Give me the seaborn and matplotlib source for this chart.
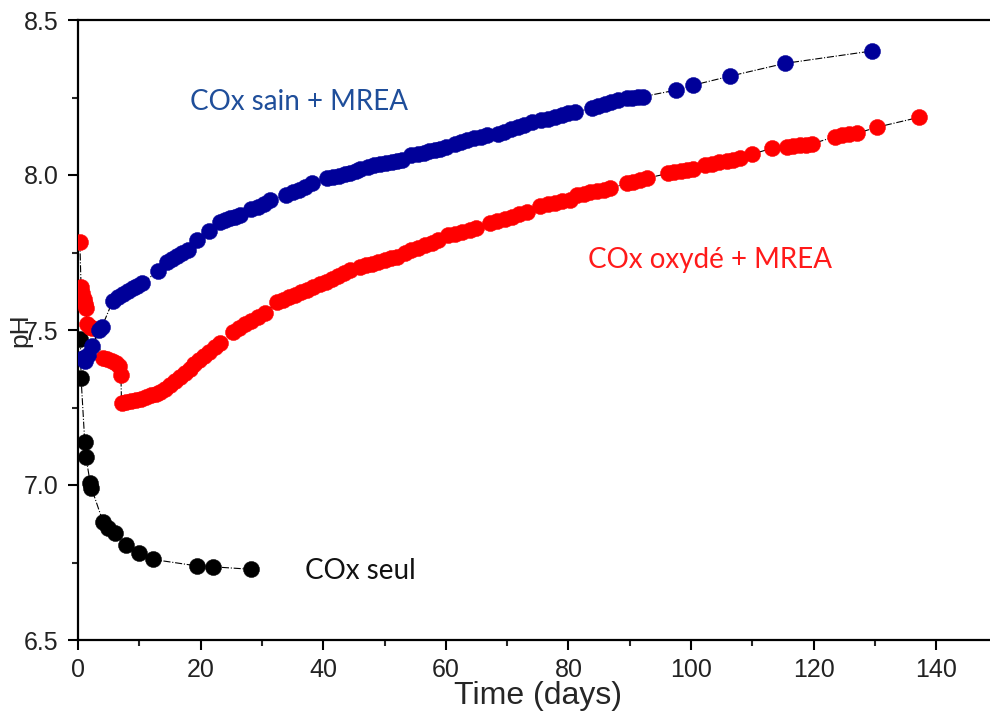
import matplotlib
matplotlib.use("Agg")
import matplotlib.pyplot as plt
import seaborn as sns
import pandas as pd
from matplotlib.ticker import MultipleLocator

# ---- data ----
blue_days = [0.8, 1.2, 1.7, 2.3, 3.5, 3.9,
             5.7, 6.5, 7.3, 8.1, 8.9, 9.7, 10.5,
             13.1,
             14.5, 15.3, 16.1, 17.0, 18.0,
             19.4, 21.3,
             23.2, 24.0, 24.8, 25.6, 26.4,
             28.3, 29.3, 30.3, 31.3,
             34.0, 35.0, 36.0, 37.0, 38.1,
             40.6, 41.6, 42.6, 43.5, 44.4, 45.3, 46.0,
             47.3, 48.3, 49.3, 50.3, 51.3, 52.1, 52.9,
             54.4, 55.4, 56.4, 57.3, 58.2, 59.1, 60.1,
             61.5, 62.5, 63.5, 64.6, 65.7, 66.7,
             68.5, 69.5, 70.6, 71.7, 72.8, 74.0,
             75.6, 76.7, 77.8, 78.9, 80.0, 81.0,
             83.8, 84.8, 85.9, 87.0, 88.1,
             89.5, 90.4, 91.3, 92.2,
             97.6, 100.4, 106.4, 115.3, 129.5]
blue_ph = [7.41, 7.40, 7.42, 7.45, 7.50, 7.51,
           7.595, 7.605, 7.615, 7.625, 7.635, 7.643, 7.652,
           7.69,
           7.72, 7.73, 7.738, 7.748, 7.758,
           7.79, 7.82,
           7.85, 7.855, 7.86, 7.866, 7.872,
           7.89, 7.898, 7.906, 7.918,
           7.935, 7.945, 7.953, 7.962, 7.974,
           7.99, 7.993, 7.997, 8.002, 8.007, 8.014, 8.02,
           8.027, 8.031, 8.034, 8.038, 8.041, 8.045, 8.048,
           8.065, 8.068, 8.072, 8.076, 8.080, 8.085, 8.089,
           8.10, 8.105, 8.112, 8.118, 8.124, 8.13,
           8.133, 8.14, 8.148, 8.155, 8.162, 8.17,
           8.177, 8.182, 8.188, 8.193, 8.199, 8.204,
           8.215, 8.221, 8.228, 8.235, 8.242,
           8.247, 8.249, 8.251, 8.253,
           8.274, 8.29, 8.319, 8.36, 8.40]

red_days = [0.3,
            0.5, 0.7, 0.9, 1.1, 1.3,
            1.5, 1.9, 2.3,
            4.1, 4.8, 5.5, 6.2, 6.7, 7.0,
            7.1, 7.9, 8.7, 9.5, 10.3, 11.1, 11.9, 12.7, 13.4,
            14.2, 15.0, 15.8, 16.6, 17.4, 18.2, 19.0, 19.8, 20.6, 21.4, 22.3, 23.2,
            25.3, 26.3, 27.3, 28.3, 29.4, 30.5,
            32.4, 33.4, 34.4, 35.4, 36.4, 37.4, 38.4, 39.4, 40.4, 41.4, 42.4, 43.4, 44.4,
            46.0, 47.0, 48.0, 49.0, 50.0, 51.0, 52.0,
            53.3, 54.4, 55.5, 56.6, 57.7, 58.8,
            60.4, 61.5, 62.7, 63.9, 65.0,
            67.2, 68.4, 69.6, 70.8, 72.0, 73.2,
            75.4, 76.6, 77.8, 79.0, 80.3,
            81.4, 82.5, 83.6, 84.7, 85.8, 86.8,
            89.5, 90.5, 91.6, 92.8,
            96.3, 97.3, 98.4, 99.4, 100.4,
            102.3, 103.5, 104.6, 105.8, 106.9, 108.0,
            109.9, 113.2,
            115.6, 116.6, 117.7, 118.7, 119.7,
            123.5, 124.7, 125.8, 127.0,
            130.3, 137.2]
red_ph = [7.785,
          7.64, 7.62, 7.60, 7.585, 7.57,
          7.52, 7.51, 7.505,
          7.41, 7.405, 7.40, 7.395, 7.385, 7.355,
          7.265, 7.268, 7.27, 7.274, 7.278, 7.283, 7.289, 7.295, 7.30,
          7.31, 7.322, 7.335, 7.348, 7.361, 7.375, 7.389, 7.403, 7.416, 7.43, 7.444, 7.457,
          7.495, 7.507, 7.519, 7.53, 7.542, 7.554,
          7.59, 7.598, 7.606, 7.614, 7.622, 7.63, 7.638, 7.647, 7.656, 7.665, 7.674, 7.683, 7.692,
          7.704, 7.709, 7.714, 7.72, 7.725, 7.731, 7.736,
          7.75, 7.758, 7.766, 7.774, 7.782, 7.79,
          7.806, 7.811, 7.817, 7.822, 7.828,
          7.844, 7.851, 7.858, 7.866, 7.873, 7.88,
          7.90, 7.905, 7.91, 7.915, 7.92,
          7.935, 7.94, 7.944, 7.948, 7.953, 7.957,
          7.973, 7.978, 7.984, 7.99,
          8.005, 8.009, 8.013, 8.017, 8.02,
          8.032, 8.036, 8.041, 8.045, 8.05, 8.054,
          8.067, 8.086,
          8.091, 8.094, 8.096, 8.098, 8.10,
          8.124, 8.128, 8.131, 8.134,
          8.154, 8.186]

black_days = [0.4, 0.5, 1.1, 1.3, 2.0, 2.2, 4.1, 4.95, 6.0, 7.9, 10.0, 12.2, 19.4, 22.1, 28.3]
black_ph = [7.47, 7.345, 7.14, 7.09, 7.006, 6.99, 6.88, 6.86, 6.845, 6.806, 6.78, 6.76, 6.739, 6.736, 6.728]

series_names = ["COx seul", "COx oxydé + MREA", "COx sain + MREA"]
x_ticks = [0, 20, 40, 60, 80, 100, 120, 140]
y_ticks = [6.5, 7.0, 7.5, 8.0, 8.5]

# ---- build tables ----
df_black = pd.DataFrame({"day": black_days, "pH": black_ph})
df_red = pd.DataFrame({"day": red_days, "pH": red_ph})
df_blue = pd.DataFrame({"day": blue_days, "pH": blue_ph})

sns.set_theme(style="ticks")
plt.rcParams["font.family"] = ["Liberation Sans", "DejaVu Sans"]

W, H = 990, 717
fig = plt.figure(figsize=(W / 100, H / 100), dpi=100)
ax = fig.add_axes([78 / W, (H - 640) / H, (997.5 - 78) / W, (640 - 20) / H])

colors = {"black": "#000000", "red": "#FF0000", "blue": "#000099"}
msize = 135
for df, c in [(df_black, colors["black"]), (df_red, colors["red"]), (df_blue, colors["blue"])]:
    sns.lineplot(data=df, x="day", y="pH", ax=ax, color="black", linestyle="-.",
                 linewidth=0.8, sort=False, estimator=None, zorder=2)
    sns.scatterplot(data=df, x="day", y="pH", ax=ax, color=c, s=msize,
                    edgecolor=c, linewidth=0.3, zorder=3)

ax.set_xlim(0, 150)
ax.set_ylim(6.5, 8.5)
ax.set_xticks(x_ticks)
ax.set_yticks(y_ticks)
ax.set_yticklabels([f"{v:.1f}" for v in y_ticks])
ax.xaxis.set_minor_locator(MultipleLocator(10))
ax.yaxis.set_minor_locator(MultipleLocator(0.25))
ax.tick_params(axis="both", which="major", direction="out", length=7, width=1.5,
               labelsize=18, colors="black", labelcolor="#222222")
ax.tick_params(axis="x", which="major", pad=6)
ax.tick_params(axis="y", which="major", pad=7)
ax.tick_params(axis="both", which="minor", direction="out", length=4, width=1.5)
ax.tick_params(top=False, right=False, which="both")

for sp in ["left", "bottom", "top", "right"]:
    ax.spines[sp].set_visible(True)
    ax.spines[sp].set_linewidth(1.6)
    ax.spines[sp].set_color("black")

ax.set_xlabel("Time (days)", fontsize=23, labelpad=-1)
ax.set_ylabel("pH", fontsize=19)
ax.yaxis.set_label_coords(-0.05, 0.5)

txt_font = ["Lato", "DejaVu Sans"]
ax.text(18.3, 8.236, series_names[2], color="#1F4E9A", fontsize=20, family=txt_font,
        ha="left", va="center")
ax.text(83.2, 7.726, series_names[1], color="#FF1A1A", fontsize=20, family=txt_font,
        ha="left", va="center")
ax.text(37.0, 6.721, series_names[0], color="#111111", fontsize=20, family=txt_font,
        ha="left", va="center")

fig.savefig("out.png", dpi=100)
